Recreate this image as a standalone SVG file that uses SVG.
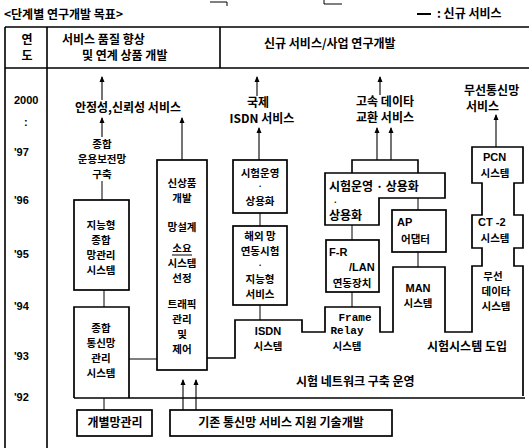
<svg xmlns="http://www.w3.org/2000/svg" width="529" height="448" viewBox="0 0 529 448">
<style>
.t{font-family:"Noto Sans CJK KR","Noto Sans",sans-serif;font-weight:bold;font-size:12px;fill:#000}
.s{font-size:10.5px}
.d{font-size:8px}
.c{text-anchor:middle}
.n{font-family:"Liberation Sans",Arial,sans-serif;font-weight:bold;font-size:11px;fill:#000}
.m{font-family:"Liberation Mono","Courier New",monospace;font-weight:bold;font-size:11px;fill:#000;text-anchor:middle}
.b{fill:none;stroke:#000;stroke-width:1.7}
.g{fill:none;stroke:#000;stroke-width:1.6}
.k{fill:none;stroke:#000;stroke-width:1}
.a{fill:none;stroke:#000;stroke-width:1.1;marker-end:url(#ah)}
</style>
<defs>
<marker id="ah" markerWidth="6" markerHeight="6" refX="5" refY="3" orient="auto" markerUnits="userSpaceOnUse">
<path d="M0,0.5 L6,3 L0,5.5 Z" fill="#000"/>
</marker>
</defs>
<rect width="529" height="448" fill="#fff"/>

<g id="frame">
<path class="k" d="M210,2 H227 V6 M324,0 V4 H342"/>
<text class="t" x="4" y="19">&lt;단계별 연구개발 목표&gt;</text>
<line x1="417" y1="14" x2="431" y2="14" stroke="#000" stroke-width="2"/>
<text class="t" x="437" y="18">: 신규 서비스</text>
<path class="g" d="M5,27 H529 M5,68 H529 M5,27 V448 M47,27 V448 M220,27 V68"/>
<text class="t c" x="27" y="44">연</text>
<text class="t c" x="27" y="60">도</text>
<text class="t" x="62" y="44">서비스 품질 향상</text>
<text class="t" x="82" y="60">및 연계 상품 개발</text>
<text class="t" x="264" y="48">신규 서비스/사업 연구개발</text>
<text class="n" x="14" y="104">2000</text>
<text class="n" x="24" y="126">:</text>
<text class="n" x="14" y="156">'97</text>
<text class="n" x="14" y="204">'96</text>
<text class="n" x="14" y="258">'95</text>
<text class="n" x="14" y="310">'94</text>
<text class="n" x="14" y="360">'93</text>
<text class="n" x="14" y="401">'92</text>
</g>

<g id="connectors">
<line class="a" x1="102" y1="100" x2="102" y2="77"/>
<line class="a" x1="257" y1="96" x2="257" y2="77"/>
<line class="a" x1="380" y1="95" x2="380" y2="77"/>
<line class="a" x1="102" y1="137" x2="102" y2="118"/>
<line class="a" x1="182" y1="160" x2="182" y2="118"/>
<line class="a" x1="259" y1="160" x2="259" y2="128"/>
<line class="a" x1="377" y1="160" x2="377" y2="128"/>
<line class="a" x1="391" y1="160" x2="391" y2="128"/>
<line class="a" x1="496" y1="147" x2="496" y2="115"/>
<line class="a" x1="183" y1="410" x2="183" y2="380"/>
<line class="a" x1="196" y1="410" x2="196" y2="380"/>
<path class="k" d="M102,181 V200 M104,290 V307 M129,359 H157 M260,213 V226 M260,305 V320 M352,225 V240 M352,292 V307 M418,198 V210 M418,252 V267 M104,398 V410"/>
<path class="g" d="M352,173 V160 H418 V173"/>
</g>

<g id="n-stability"><text class="t" x="75" y="112">안정성,신뢰성 서비스</text></g>
<g id="n-intl-isdn">
<text class="t c" x="258" y="107">국제</text>
<text class="t c" x="262" y="123">ISDN 서비스</text>
</g>
<g id="n-highspeed">
<text class="t c" x="385" y="106">고속 데이타</text>
<text class="t c" x="385" y="122">교환 서비스</text>
</g>
<g id="n-wireless">
<text class="t" x="464" y="95">무선통신망</text>
<text class="t" x="466" y="111">서비스</text>
</g>

<g id="n-integrated-ops">
<text class="t s c" x="102" y="148">종합</text>
<text class="t s c" x="102" y="163">운용보전망</text>
<text class="t s c" x="102" y="178">구축</text>
</g>
<g id="n-intelligent-nms">
<rect class="b" x="74" y="200" width="55" height="90"/>
<text class="t s c" x="101" y="229">지능형</text>
<text class="t s c" x="101" y="244">종합</text>
<text class="t s c" x="101" y="259">망관리</text>
<text class="t s c" x="101" y="274">시스템</text>
</g>
<g id="n-integrated-nms">
<path class="b" d="M74,398 V307 H129 V398"/>
<text class="t s c" x="101" y="332">종합</text>
<text class="t s c" x="101" y="347">통신망</text>
<text class="t s c" x="101" y="362">관리</text>
<text class="t s c" x="101" y="377">시스템</text>
</g>
<g id="n-newproduct">
<rect class="b" x="157" y="160" width="50" height="210"/>
<text class="t s c" x="182" y="187">신상품</text>
<text class="t s c" x="182" y="202">개발</text>
<text class="t s c" x="182" y="231">망설계</text>
<text class="t s c" x="182" y="252">소요</text>
<line class="k" x1="172" y1="255" x2="192" y2="255"/>
<text class="t s c" x="182" y="267">시스템</text>
<text class="t s c" x="182" y="282">선정</text>
<text class="t s c" x="182" y="308">트래픽</text>
<text class="t s c" x="182" y="323">관리</text>
<text class="t s c" x="182" y="338">및</text>
<text class="t s c" x="182" y="353">제어</text>
</g>
<g id="n-isdn-trial">
<rect class="b" x="233" y="160" width="54" height="53"/>
<text class="t s c" x="260" y="177">시험운영</text>
<text class="t d c" x="260" y="189">·</text>
<text class="t s c" x="260" y="205">상용화</text>
</g>
<g id="n-isdn-interop">
<rect class="b" x="233" y="226" width="54" height="79"/>
<text class="t s c" x="260" y="240">해외 망</text>
<text class="t s c" x="260" y="255">연동시험</text>
<text class="t d c" x="260" y="268">·</text>
<text class="t s c" x="260" y="283">지능형</text>
<text class="t s c" x="260" y="298">서비스</text>
</g>
<g id="n-hs-trial">
<path class="b" d="M325,173 H445 V198 H379 V225 H325 Z"/>
<text class="t" x="329" y="191">시험운영 · 상용화</text>
<text class="t d" x="333" y="205">·</text>
<text class="t" x="329" y="220">상용화</text>
</g>
<g id="n-frlan">
<rect class="b" x="326" y="240" width="53" height="52"/>
<text class="n" x="329" y="256">F-R</text>
<text class="n" x="349" y="271">/LAN</text>
<text class="t s c" x="352" y="287">연동장치</text>
</g>
<g id="n-ap">
<rect class="b" x="392" y="210" width="54" height="42"/>
<text class="n" x="397" y="226">AP</text>
<text class="t s" x="401" y="243">어댑터</text>
</g>
<g id="n-pcn-column">
<path class="b" d="M207,358 H235 V320 H302 V332 H325 V307 H380 V332 H393 V267 H445 V332 H472 V266 H482 V248 H472 V215 H482 V183 H472 V147 H523 V183 H514 V215 H523 V248 H514 V266 H523 V396"/>
<text class="n" x="483" y="161">PCN</text>
<text class="t s c" x="495" y="177">시스템</text>
<text class="n" x="478" y="226">CT -2</text>
<text class="t s c" x="495" y="242">시스템</text>
<text class="t s c" x="493" y="280">무선</text>
<text class="t s c" x="496" y="295">데이타</text>
<text class="t s c" x="496" y="310">시스템</text>
</g>
<g id="n-isdn-system">
<text class="n" x="268" y="335" text-anchor="middle">ISDN</text>
<text class="t s c" x="268" y="350">시스템</text>
</g>
<g id="n-framerelay">
<text class="m" x="355" y="321">Frame</text>
<text class="m" x="347" y="334">Relay</text>
<text class="t s c" x="347" y="350">시스템</text>
</g>
<g id="n-man">
<text class="n" x="418" y="292" text-anchor="middle">MAN</text>
<text class="t s c" x="418" y="307">시스템</text>
</g>
<g id="n-testbed">
<text class="t c" x="467" y="351">시험시스템 도입</text>
<text class="t" x="296" y="386">시험 네트워크 구축 운영</text>
<line class="g" x1="74" y1="398" x2="525" y2="398"/>
</g>
<g id="n-individual">
<rect class="b" x="77" y="410" width="75" height="26"/>
<text class="t c" x="115" y="427">개별망관리</text>
</g>
<g id="n-existing">
<rect class="b" x="170" y="410" width="222" height="26"/>
<text class="t c" x="281" y="427">기존 통신망 서비스 지원 기술개발</text>
</g>
</svg>
